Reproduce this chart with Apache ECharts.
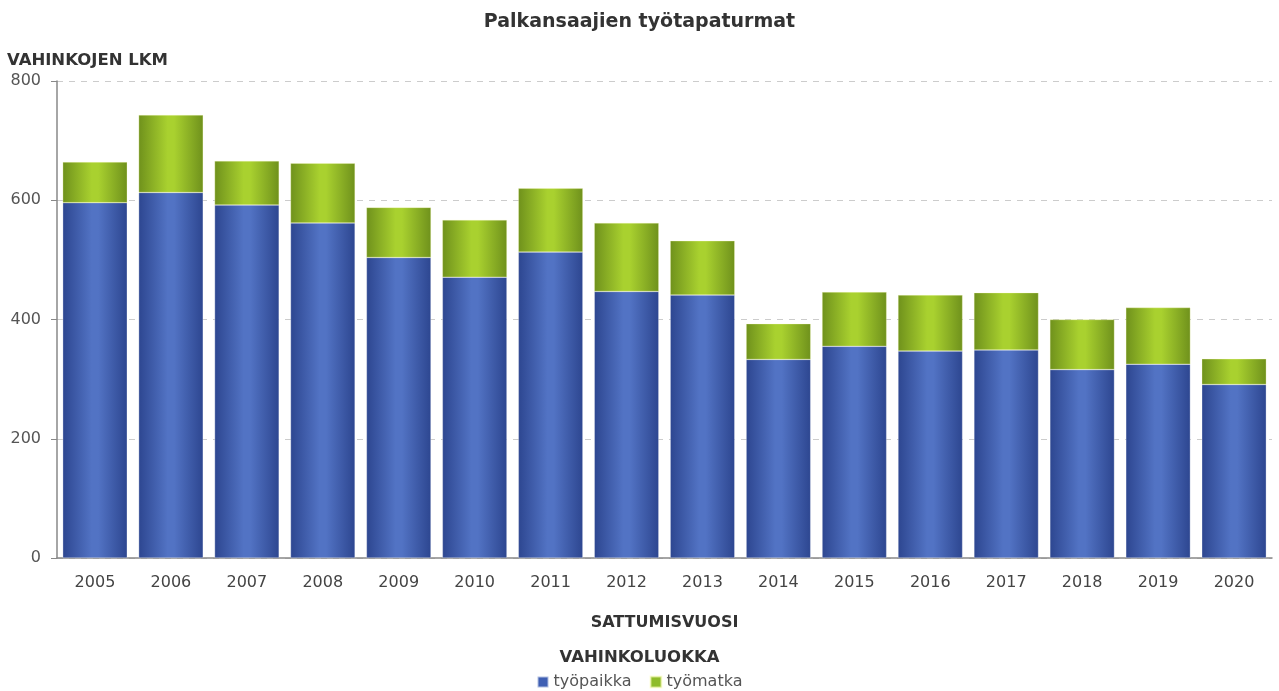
<!DOCTYPE html>
<html>
<head>
<meta charset="utf-8">
<script src="https://cdn.jsdelivr.net/npm/echarts@6/dist/echarts.min.js"></script>
<style>
    html, body { margin: 0; padding: 0; background: #fff; }
    #main { width: 1279px; height: 691px; }
</style>
</head>
<body>
<div id="main"></div>
<script>
var vuodet = ['2005', '2006', '2007', '2008', '2009', '2010', '2011', '2012',
    '2013', '2014', '2015', '2016', '2017', '2018', '2019', '2020'];
var tyopaikka = [596, 613, 592, 562, 504, 471, 513, 447, 441, 333, 355, 347, 349, 316, 325, 291];
var tyomatka = [68, 130, 74, 100, 84, 96, 107, 115, 91, 60, 91, 94, 96, 84, 95, 43];
var yTicks = [0, 200, 400, 600, 800];

(function(){
    var fontName = '"DejaVu Sans", sans-serif';

    function bandGradient(edge, mid){
        return new echarts.graphic.LinearGradient(0, 0, 1, 0, [
            {offset: 0, color: edge},
            {offset: 0.45, color: mid},
            {offset: 0.55, color: mid},
            {offset: 1, color: edge}
        ]);
    }

    var option = {
        backgroundColor: '#fff',
        textStyle: {fontFamily: fontName},
        animation: false,
        title: [
            {
                text: 'Palkansaajien työtapaturmat',
                left: 'center',
                top: 8,
                textStyle: {fontSize: 19, fontWeight: 'bold', color: '#333', fontFamily: fontName}
            },
            {
                text: 'VAHINKOLUOKKA',
                left: 'center',
                top: 644,
                textStyle: {fontSize: 16.5, fontWeight: 'bold', color: '#333', fontFamily: fontName}
            }
        ],
        legend: {
            top: 669,
            left: 'center',
            icon: 'rect',
            itemWidth: 11,
            itemHeight: 11,
            itemGap: 18,
            textStyle: {fontSize: 16, color: '#555'},
            data: [
                {name: 'työpaikka', itemStyle: {color: '#3f5fb3'}},
                {name: 'työmatka', itemStyle: {color: '#8fbc2a'}}
            ]
        },
        grid: {
            left: 57,
            right: 7,
            top: 81,
            bottom: 133,
            containLabel: false
        },
        xAxis: {
            type: 'category',
            data: vuodet,
            name: 'SATTUMISVUOSI',
            nameLocation: 'middle',
            nameGap: 57,
            nameTextStyle: {fontSize: 16, fontWeight: 'bold', color: '#333'},
            axisLine: {lineStyle: {color: '#888', width: 1.5}},
            axisTick: {alignWithLabel: true, length: 6, lineStyle: {color: '#888'}},
            axisLabel: {fontSize: 16, color: '#444', margin: 17}
        },
        yAxis: {
            type: 'value',
            min: yTicks[0],
            max: yTicks[yTicks.length - 1],
            interval: yTicks[1] - yTicks[0],
            name: 'VAHINKOJEN LKM',
            nameLocation: 'end',
            nameGap: 12,
            nameTextStyle: {
                fontSize: 16.5, fontWeight: 'bold', color: '#333',
                align: 'left', padding: [0, 0, 0, -50]
            },
            axisLine: {show: true, lineStyle: {color: '#888', width: 1.5}},
            axisTick: {show: true, length: 6, lineStyle: {color: '#888'}},
            axisLabel: {fontSize: 16, color: '#555', margin: 16},
            splitLine: {lineStyle: {color: '#ccc', type: [6, 6]}}
        },
        series: [
            {
                name: 'työpaikka',
                type: 'bar',
                stack: 'yht',
                barCategoryGap: '15%',
                itemStyle: {
                    color: bandGradient('#2d4690', '#5273c4'),
                    borderColor: 'rgba(255,255,255,0.6)',
                    borderWidth: 0.5
                },
                data: tyopaikka
            },
            {
                name: 'työmatka',
                type: 'bar',
                stack: 'yht',
                barCategoryGap: '15%',
                itemStyle: {
                    color: bandGradient('#6f911c', '#a9d12f'),
                    borderColor: 'rgba(255,255,200,0.6)',
                    borderWidth: 0.5
                },
                data: tyomatka
            }
        ]
    };

    var myChart = echarts.init(document.getElementById('main'));
    myChart.setOption(option);
})();
</script>
</body>
</html>
